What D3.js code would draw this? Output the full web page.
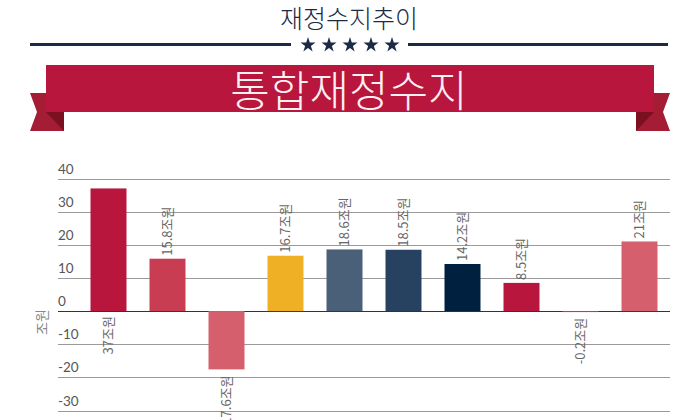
<!DOCTYPE html>
<html><head><meta charset="utf-8">
<script src="https://cdn.jsdelivr.net/npm/d3@7"></script>
<style>body{margin:0;background:#fff}svg{display:block}</style>
</head><body>
<script>
const title = "재정수지추이";
const bannerText = "통합재정수지";
const unitLabel = "조원";
const categories = ["A","B","C","D","E","F","G","H","I","J"];
const values = [37, 15.8, -17.6, 16.7, 18.6, 18.5, 14.2, 8.5, -0.2, 21];
const colors = ["#b8163c","#c93d52","#d65f6e","#f0b025","#4a6079","#264260","#002040","#b8163c","#c93d52","#d65f6e"];
const yTicks = [-30,-20,-10,0,10,20,30,40];

const W=700,H=420;
const svg=d3.select("body").append("svg").attr("width",W).attr("height",H);
const font="'Noto Sans CJK KR', 'Noto Sans', sans-serif";

// Title
svg.append("text").attr("x",349).attr("y",28).attr("text-anchor","middle")
  .attr("font-family",font).attr("font-weight",300).attr("font-size",25).attr("fill","#1b2a45").text(title);
// lines
svg.append("line").attr("x1",30).attr("x2",291).attr("y1",44.5).attr("y2",44.5).attr("stroke","#1b2a45").attr("stroke-width",3);
svg.append("line").attr("x1",408).attr("x2",668).attr("y1",44.5).attr("y2",44.5).attr("stroke","#1b2a45").attr("stroke-width",3);
const star=d3.symbol().type(d3.symbolStar).size(70);
[308,329,350,371,392].forEach(cx=>{
  svg.append("path").attr("d",star()).attr("transform",`translate(${cx},45)`).attr("fill","#1b2a45");
});
// Ribbon tails
svg.append("polygon").attr("points","30,93 64,93 64,131 30,131 37,112").attr("fill","#a51d35");
svg.append("polygon").attr("points","46,112 64,112 64,131").attr("fill","#7a1020");
svg.append("polygon").attr("points","636,93 670,93 663,112 670,131 636,131").attr("fill","#a51d35");
svg.append("polygon").attr("points","654,112 636,112 636,131").attr("fill","#7a1020");
svg.append("rect").attr("x",46).attr("y",65).attr("width",608).attr("height",47).attr("fill","#b8163c");
svg.append("text").attr("x",349).attr("y",107).attr("text-anchor","middle")
  .attr("font-family",font).attr("font-weight",300).attr("font-size",43).attr("fill","#fdf0f3").text(bannerText);

// Chart
const y=d3.scaleLinear().domain([-30,40]).range([410.5,178.5]);
const x=d3.scaleBand().domain(categories).range([79,669]).paddingInner(0.39).paddingOuter(0.195);

const grid=svg.append("g");
yTicks.forEach(t=>{
  grid.append("line").attr("x1",58).attr("x2",670).attr("y1",Math.round(y(t))+0.5).attr("y2",Math.round(y(t))+0.5)
    .attr("stroke",t===0?"#333":"#9a9a9a").attr("stroke-width",1);
  grid.append("text").attr("x",58).attr("y",Math.round(y(t))-5).attr("font-family","Lato, sans-serif")
    .attr("font-size",13.5).attr("fill","#555").text(t);
});
svg.append("text").attr("transform",`translate(47,322) rotate(-90)`).attr("text-anchor","middle")
  .attr("font-family",font).attr("font-size",14).attr("fill","#888").text(unitLabel);

svg.append("g").selectAll("rect").data(values).join("rect")
  .attr("x",(d,i)=>x(categories[i])).attr("width",x.bandwidth())
  .attr("y",d=>y(Math.max(0,d))).attr("height",d=>Math.max(1,Math.abs(y(d)-y(0))))
  .attr("fill",(d,i)=>colors[i]);

svg.append("g").selectAll("text").data(values).join("text")
  .attr("transform",(d,i)=>{
    const cx=x(categories[i])+x.bandwidth()/2+4.5;
    let yy;
    if(d>=0 && y(d)-55>175){ yy=y(d)-3; }
    else if(d>=0){ yy=y(0)+5; }
    else { yy=y(d)+6; }
    return `translate(${cx},${yy}) rotate(-90)`;
  })
  .attr("text-anchor",d=>(d>=0 && y(d)-55>175)?"start":"end")
  .attr("font-family",font).attr("font-size",13).attr("fill","#666")
  .text(d=>d+"조원");
</script>
</body></html>
